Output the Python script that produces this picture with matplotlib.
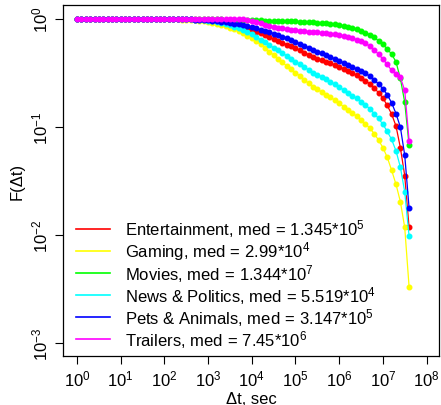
import numpy as np
import matplotlib
matplotlib.use("Agg")
import matplotlib.pyplot as plt
from matplotlib.lines import Line2D

plt.rcParams['font.family'] = ['Liberation Sans', 'DejaVu Sans']
plt.rcParams['mathtext.fontset'] = 'custom'
plt.rcParams['mathtext.rm'] = 'Liberation Sans'
plt.rcParams['mathtext.it'] = 'Liberation Sans:italic'
plt.rcParams['mathtext.bf'] = 'Liberation Sans:bold'

# log10 of delta t (sec) at each plotted point
log_dt = [0.0, 0.1, 0.2, 0.3, 0.4, 0.5, 0.6, 0.7, 0.8, 0.9,
          1.0, 1.1, 1.2, 1.3, 1.4, 1.5, 1.6, 1.7, 1.8, 1.9,
          2.0, 2.1, 2.2, 2.3, 2.4, 2.5, 2.6, 2.7, 2.8, 2.9,
          3.0, 3.1, 3.2, 3.3, 3.4, 3.5, 3.6, 3.7, 3.8, 3.9,
          4.0, 4.1, 4.2, 4.3, 4.4, 4.5, 4.6, 4.7, 4.8, 4.9,
          5.0, 5.1, 5.2, 5.3, 5.4, 5.5, 5.6, 5.7, 5.8, 5.9,
          6.0, 6.1, 6.2, 6.3, 6.4, 6.5, 6.6, 6.7, 6.8, 6.9,
          7.0, 7.1, 7.2, 7.3, 7.4, 7.5, 7.6]

# log10 F(dt)
entertainment = [0.0, 0.0, 0.0, 0.0, 0.0, 0.0, 0.0, 0.0, 0.0, 0.0,
                 0.0, 0.0, 0.0, 0.0, 0.0, 0.0, 0.0, 0.0, 0.0, 0.0,
                 0.0, 0.0, 0.0, 0.0, 0.0, 0.0, -0.002, -0.004, -0.007, -0.010,
                 -0.014, -0.019, -0.024, -0.030, -0.037, -0.045, -0.054, -0.064, -0.075, -0.087,
                 -0.100, -0.115, -0.132, -0.150, -0.168, -0.185, -0.202, -0.219, -0.236, -0.253,
                 -0.270, -0.290, -0.310, -0.330, -0.350, -0.365, -0.380, -0.395, -0.410, -0.425,
                 -0.440, -0.460, -0.480, -0.500, -0.520, -0.545, -0.570, -0.600, -0.640, -0.680,
                 -0.730, -0.800, -0.880, -0.990, -1.190, -1.450, -1.930]
gaming = [0.0, 0.0, 0.0, 0.0, 0.0, 0.0, 0.0, 0.0, 0.0, 0.0,
          0.0, 0.0, 0.0, 0.0, 0.0, 0.0, 0.0, 0.0, 0.0, 0.0,
          0.0, 0.0, 0.0, -0.002, -0.004, -0.006, -0.009, -0.012, -0.016, -0.021,
          -0.027, -0.034, -0.042, -0.052, -0.064, -0.078, -0.094, -0.112, -0.132, -0.155,
          -0.178, -0.205, -0.235, -0.265, -0.300, -0.335, -0.370, -0.400, -0.435, -0.465,
          -0.495, -0.525, -0.560, -0.595, -0.625, -0.650, -0.675, -0.700, -0.725, -0.750,
          -0.780, -0.810, -0.840, -0.870, -0.900, -0.935, -0.970, -1.010, -1.060, -1.120,
          -1.190, -1.280, -1.400, -1.530, -1.690, -1.930, -2.480]
movies = [0.0, 0.0, 0.0, 0.0, 0.0, 0.0, 0.0, 0.0, 0.0, 0.0,
          0.0, 0.0, 0.0, 0.0, 0.0, 0.0, 0.0, 0.0, 0.0, 0.0,
          0.0, 0.0, 0.0, 0.0, 0.0, 0.0, 0.0, 0.0, 0.0, 0.0,
          0.0, -0.001, -0.002, -0.003, -0.004, -0.005, -0.006, -0.007, -0.008, -0.009,
          -0.010, -0.011, -0.012, -0.013, -0.014, -0.015, -0.016, -0.018, -0.019, -0.021,
          -0.022, -0.024, -0.026, -0.028, -0.030, -0.033, -0.036, -0.040, -0.044, -0.049,
          -0.055, -0.063, -0.072, -0.082, -0.094, -0.108, -0.125, -0.145, -0.170, -0.200,
          -0.235, -0.275, -0.325, -0.395, -0.550, -0.770, -1.170]
news = [0.0, 0.0, 0.0, 0.0, 0.0, 0.0, 0.0, 0.0, 0.0, 0.0,
        0.0, 0.0, 0.0, 0.0, 0.0, 0.0, 0.0, 0.0, 0.0, 0.0,
        0.0, 0.0, 0.0, 0.0, 0.0, 0.0, -0.002, -0.004, -0.007, -0.011,
        -0.015, -0.021, -0.028, -0.036, -0.046, -0.058, -0.071, -0.086, -0.103, -0.121,
        -0.140, -0.165, -0.190, -0.215, -0.240, -0.265, -0.290, -0.315, -0.340, -0.370,
        -0.395, -0.420, -0.445, -0.470, -0.495, -0.515, -0.535, -0.555, -0.580, -0.605,
        -0.630, -0.655, -0.685, -0.710, -0.735, -0.765, -0.795, -0.830, -0.875, -0.920,
        -0.975, -1.040, -1.115, -1.220, -1.370, -1.600, -2.010]
pets = [0.0, 0.0, 0.0, 0.0, 0.0, 0.0, 0.0, 0.0, 0.0, 0.0,
        0.0, 0.0, 0.0, 0.0, 0.0, 0.0, 0.0, 0.0, 0.0, 0.0,
        0.0, 0.0, 0.0, 0.0, 0.0, 0.0, -0.002, -0.004, -0.006, -0.009,
        -0.012, -0.016, -0.020, -0.025, -0.030, -0.036, -0.042, -0.049, -0.056, -0.065,
        -0.075, -0.086, -0.097, -0.109, -0.122, -0.135, -0.148, -0.162, -0.176, -0.192,
        -0.210, -0.228, -0.245, -0.265, -0.282, -0.300, -0.316, -0.332, -0.350, -0.368,
        -0.385, -0.405, -0.425, -0.443, -0.462, -0.482, -0.500, -0.530, -0.565, -0.600,
        -0.645, -0.700, -0.775, -0.875, -1.000, -1.260, -1.750]
trailers = [0.0, 0.0, 0.0, 0.0, 0.0, 0.0, 0.0, 0.0, 0.0, 0.0,
            0.0, 0.0, 0.0, 0.0, 0.0, 0.0, 0.0, 0.0, 0.0, 0.0,
            0.0, 0.0, 0.0, 0.0, 0.0, 0.0, 0.0, 0.0, 0.0, 0.0,
            0.0, 0.0, 0.0, 0.0, 0.0, 0.0, 0.0, 0.0, -0.003, -0.008,
            -0.016, -0.027, -0.040, -0.050, -0.060, -0.070, -0.078, -0.085, -0.091, -0.097,
            -0.102, -0.107, -0.111, -0.115, -0.119, -0.123, -0.127, -0.131, -0.136, -0.142,
            -0.149, -0.157, -0.166, -0.177, -0.190, -0.206, -0.225, -0.250, -0.285, -0.325,
            -0.370, -0.420, -0.475, -0.505, -0.540, -0.660, -1.125]

names = ["Entertainment", "Gaming", "Movies", "News & Politics", "Pets & Animals", "Trailers"]
medians = ["1.345*10$^{5}$", "2.99*10$^{4}$", "1.344*10$^{7}$",
           "5.519*10$^{4}$", "3.147*10$^{5}$", "7.45*10$^{6}$"]
colors = ["#ff0000", "#ffff00", "#00ff00", "#00ffff", "#0000ff", "#ff00ff"]
series = [entertainment, gaming, movies, news, pets, trailers]

fig = plt.figure(figsize=(4.41, 4.06), dpi=100)
ax = fig.add_axes([0.143, 0.121, 0.852, 0.864])

dt = 10 ** np.array(log_dt)
for vals, c in zip(series, colors):
    ax.plot(dt, 10 ** np.array(vals), color=c, lw=0.9, marker='o', ms=3.3, mec=c, mfc=c)

ax.set_xscale('log')
ax.set_yscale('log')
ax.set_xlim(10 ** -0.32, 10 ** 8.28)
ax.set_ylim(10 ** -3.12, 10 ** 0.13)

xt = [10.0 ** k for k in range(9)]
ax.set_xticks(xt)
ax.set_xticklabels([r"$10^{%d}$" % k for k in range(9)], fontsize=12)
yt = [10.0 ** k for k in range(-3, 1)]
ax.set_yticks(yt)
ax.set_yticklabels([r"$10^{%d}$" % k for k in range(-3, 1)], fontsize=12, rotation=90, va='center')
ax.minorticks_off()
ax.tick_params(direction='out', length=6, width=0.8, pad=3)
for s in ax.spines.values():
    s.set_linewidth(0.9)

ax.set_xlabel("Δt, sec", fontsize=12, labelpad=2)
ax.set_ylabel("F(Δt)", fontsize=12, labelpad=4)

handles = [Line2D([0], [0], color=c, lw=1.2) for c in colors]
labels = ["%s, med$\\,=\\,$%s" % (n, m) for n, m in zip(names, medians)]
ax.legend(handles, labels, loc='lower left', bbox_to_anchor=(0.035, 0.018),
          frameon=False, fontsize=12, handlelength=2.0, handletextpad=0.9,
          labelspacing=0.0, borderpad=0, borderaxespad=0)

fig.savefig("out.png", dpi=100)
